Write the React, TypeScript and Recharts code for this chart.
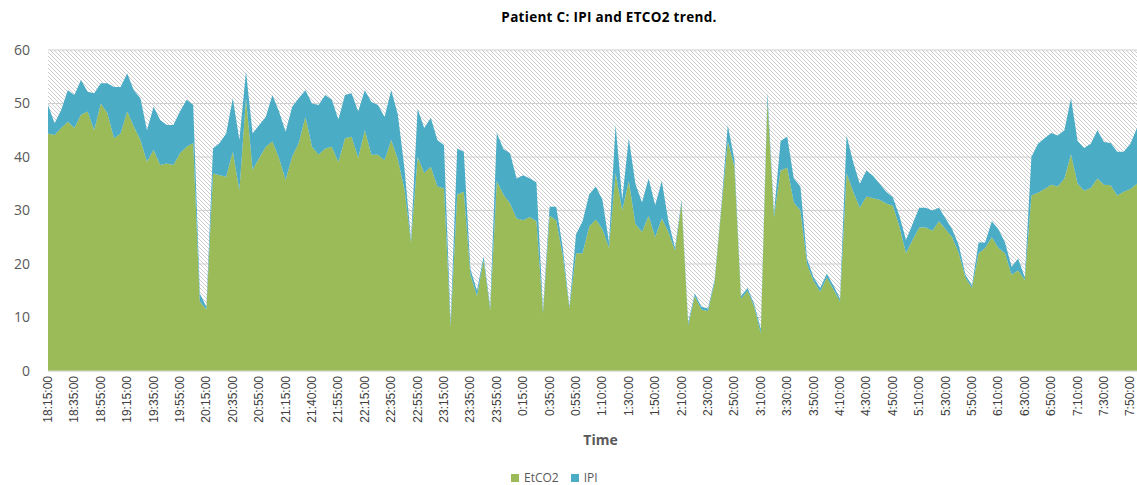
import React from "react"
import { AreaChart, Area, XAxis, YAxis, CartesianGrid, Legend } from "recharts"

// one sample per 5 minutes, from 18:15 through 7:55
const tickLabels = [
  "18:15:00", "18:35:00", "18:55:00", "19:15:00", "19:35:00", "19:55:00", "20:15:00",
  "20:35:00", "20:55:00", "21:15:00", "21:40:00", "21:55:00", "22:15:00", "22:35:00",
  "22:55:00", "23:15:00", "23:35:00", "23:55:00", "0:15:00", "0:35:00", "0:55:00",
  "1:10:00", "1:30:00", "1:50:00", "2:10:00", "2:30:00", "2:50:00", "3:10:00",
  "3:30:00", "3:50:00", "4:10:00", "4:30:00", "4:50:00", "5:10:00", "5:30:00",
  "5:50:00", "6:10:00", "6:30:00", "6:50:00", "7:10:00", "7:30:00", "7:50:00",
]

const etco2 = [
  44.4, 44.1, 45.4, 46.6, 45.4, 47.9, 48.5, 45.0, 50.0, 48.2,
  43.5, 44.4, 48.5, 45.7, 43.2, 39.1, 41.3, 38.5, 38.8, 38.5,
  40.7, 41.9, 42.6, 13.0, 11.5, 36.9, 36.6, 36.3, 41.0, 33.8,
  51.0, 37.6, 39.8, 41.9, 42.9, 39.8, 35.7, 40.1, 42.6, 47.5,
  41.9, 40.4, 41.6, 41.9, 39.0, 43.5, 43.8, 39.8, 45.0, 40.4,
  40.4, 39.4, 43.2, 39.6, 34.0, 24.0, 40.0, 37.0, 38.2, 34.5,
  34.1, 8.3, 33.0, 33.5, 18.0, 14.0, 20.7, 11.4, 35.5, 33.0,
  31.3, 28.5, 28.2, 28.8, 28.0, 10.8, 29.0, 28.2, 21.5, 11.7,
  22.0, 22.0, 27.0, 28.3, 26.5, 23.0, 37.0, 30.0, 35.5, 27.5,
  26.0, 29.0, 25.0, 28.5, 26.0, 22.5, 31.3, 8.5, 14.0, 11.5,
  11.2, 16.5, 30.0, 43.0, 38.2, 13.5, 15.0, 12.0, 7.0, 50.5,
  28.8, 37.5, 38.0, 31.5, 30.0, 20.0, 16.8, 14.8, 17.5, 15.3,
  13.0, 37.0, 33.5, 30.5, 32.6, 32.3, 32.0, 31.3, 30.9, 27.0,
  22.0, 24.5, 26.8, 26.8, 26.2, 28.0, 26.5, 25.0, 22.0, 17.5,
  15.5, 22.0, 23.0, 25.0, 23.0, 22.0, 18.0, 18.8, 17.0, 32.8,
  33.3, 34.0, 34.8, 34.5, 36.0, 40.5, 35.0, 33.7, 34.2, 36.0,
  34.8, 34.7, 32.8, 33.5, 34.0, 35.0,
]

const ipi = [
  5.3, 2.2, 3.4, 5.9, 6.2, 6.5, 3.7, 6.9, 3.8, 5.6,
  9.6, 8.7, 7.1, 6.8, 7.8, 5.9, 8.1, 8.4, 7.2, 7.5,
  7.8, 8.8, 7.1, 1.5, 0.5, 4.7, 6.0, 8.1, 10.0, 9.4,
  5.0, 6.8, 6.2, 5.6, 8.7, 8.7, 9.0, 9.3, 8.4, 5.0,
  8.1, 9.3, 10.0, 8.8, 8.0, 8.1, 8.1, 8.7, 7.5, 9.9,
  9.3, 8.1, 9.3, 8.4, 4.0, 0.5, 9.0, 8.4, 9.1, 8.7,
  8.1, 0.7, 8.6, 7.5, 1.0, 1.0, 0.7, 0.6, 9.0, 8.5,
  9.4, 7.5, 8.4, 7.2, 7.3, 0.6, 1.7, 2.5, 1.5, 0.3,
  3.5, 6.0, 6.0, 6.2, 5.5, 1.0, 9.0, 2.0, 8.0, 7.5,
  5.5, 7.0, 6.0, 7.0, 2.0, 0.5, 0.6, 0.5, 0.5, 0.5,
  0.5, 0.5, 0.5, 3.0, 1.3, 0.5, 0.5, 0.5, 0.8, 1.5,
  0.7, 5.5, 5.8, 4.5, 4.5, 1.0, 0.7, 0.7, 0.7, 0.7,
  0.5, 7.0, 5.5, 4.5, 4.9, 4.2, 3.0, 2.2, 1.6, 2.0,
  2.5, 3.0, 3.7, 3.7, 3.8, 2.5, 2.0, 1.5, 1.5, 0.5,
  0.5, 2.0, 1.0, 3.0, 3.5, 2.0, 1.5, 2.2, 0.5, 7.2,
  9.2, 9.5, 9.7, 9.5, 9.0, 10.5, 8.0, 8.0, 8.3, 9.0,
  8.0, 7.9, 8.2, 7.5, 8.5, 10.4,
]

const yTicks = [0, 10, 20, 30, 40, 50, 60]
const STEP = 4 // samples between labelled ticks

const GREEN = "#9bbb59"
const BLUE = "#4bacc6"

const data = etco2.map((v, i) => ({ idx: i, EtCO2: v, IPI: ipi[i] }))
const xTicks = tickLabels.map((_, i) => i * STEP)

function TimeTick({ x, y, payload }: any) {
  return (
    <text
      x={x}
      y={y}
      transform={`rotate(-90, ${x}, ${y})`}
      textAnchor="end"
      dominantBaseline="central"
      fontSize={12}
      fontFamily="Liberation Sans, Arial, sans-serif"
      fill="#404040"
    >
      {tickLabels[payload.value / STEP]}
    </text>
  )
}

function LegendBox() {
  const items = [
    { name: "EtCO2", color: GREEN },
    { name: "IPI", color: BLUE },
  ]
  return (
    <div
      style={{
        display: "flex",
        gap: 12,
        fontFamily: "Open Sans, sans-serif",
        fontSize: 12,
        lineHeight: "12px",
        color: "#595959",
      }}
    >
      {items.map((it) => (
        <div key={it.name} style={{ display: "flex", alignItems: "center", gap: 5 }}>
          <span style={{ width: 8, height: 8, background: it.color, display: "inline-block" }} />
          <span>{it.name}</span>
        </div>
      ))}
    </div>
  )
}

export default function App() {
  return (
    <div style={{ position: "absolute", left: 0, top: 0, width: 1137, height: 485, background: "#fff" }}>
      <div
        style={{
          position: "absolute",
          left: 409,
          top: 8,
          width: 400,
          textAlign: "center",
          fontFamily: "Open Sans, sans-serif",
          fontWeight: 700,
          fontSize: 13.5,
          letterSpacing: 0.3,
          color: "#000",
        }}
      >
        Patient C: IPI and ETCO2 trend.
      </div>
      <AreaChart width={1137} height={485} data={data} margin={{ top: 50, right: 0, bottom: 34, left: 0 }}>
        <defs>
          <pattern id="hatch" width="4" height="4" patternUnits="userSpaceOnUse">
            <rect width="4" height="4" fill="#ffffff" />
            <path d="M-1,-1 L5,5 M-1,3 L1,5 M3,-1 L5,1" stroke="#cccccc" strokeWidth={1} />
          </pattern>
        </defs>
        <CartesianGrid vertical={false} stroke="#cfcfcf" fill="url(#hatch)" fillOpacity={1} />
        <XAxis
          dataKey="idx"
          type="number"
          domain={[0, 165]}
          ticks={xTicks}
          interval={0}
          tick={<TimeTick />}
          tickLine={false}
          tickSize={0}
          tickMargin={5}
          axisLine={{ stroke: "#d9d9d9" }}
          height={80}
          label={({ viewBox }: any) => (
            <text
              x={viewBox.x + viewBox.width / 2 + 8}
              y={445}
              textAnchor="middle"
              fontFamily="Open Sans, sans-serif"
              fontWeight={700}
              fontSize={14}
              fill="#595959"
            >
              Time
            </text>
          )}
        />
        <YAxis
          domain={[0, 60]}
          ticks={yTicks}
          width={48}
          axisLine={false}
          tickLine={false}
          tickSize={0}
          tickMargin={18}
          tick={{ fontSize: 14, fill: "#595959", fontFamily: "Open Sans, sans-serif" }}
        />
        <Area
          type="linear"
          dataKey="EtCO2"
          stackId="1"
          stroke="none"
          fill={GREEN}
          fillOpacity={1}
          dot={false}
          activeDot={false}
          isAnimationActive={false}
        />
        <Area
          type="linear"
          dataKey="IPI"
          stackId="1"
          stroke="none"
          fill={BLUE}
          fillOpacity={1}
          dot={false}
          activeDot={false}
          isAnimationActive={false}
        />
        <Legend
          layout="horizontal"
          verticalAlign="middle"
          align="center"
          wrapperStyle={{ top: 472, left: 511, width: "auto", height: "auto" }}
          content={<LegendBox />}
        />
      </AreaChart>
    </div>
  )
}
